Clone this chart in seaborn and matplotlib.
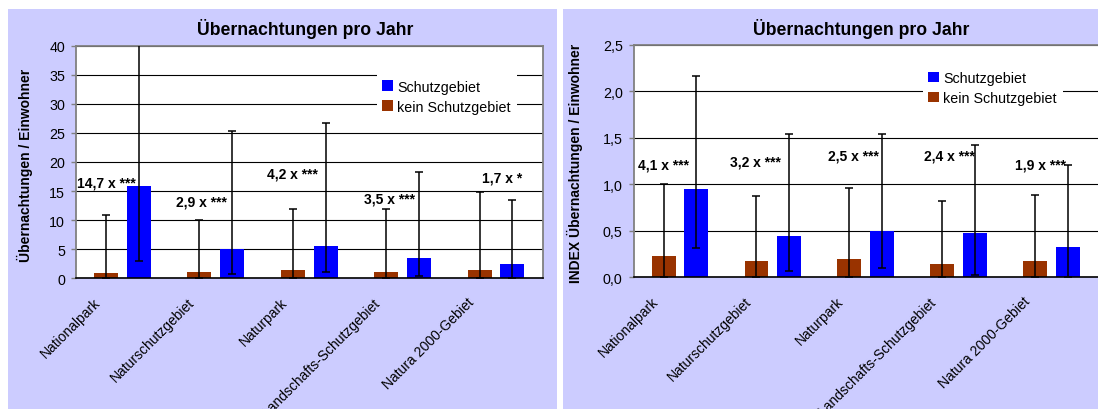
import matplotlib
matplotlib.use("Agg")
import matplotlib.pyplot as plt
import matplotlib.transforms as mtransforms
from matplotlib.patches import Rectangle
from matplotlib.ticker import FuncFormatter, MultipleLocator
import pandas as pd
import seaborn as sns

# ---------------------------------------------------------------- data
gebiete = ["Nationalpark", "Naturschutzgebiet", "Naturpark",
           "Landschafts-Schutzgebiet", "Natura 2000-Gebiet"]
gruppen = ["kein Schutzgebiet", "Schutzgebiet"]

# Übernachtungen / Einwohner
abs_kein = [0.92, 1.1, 1.4, 1.1, 1.4]
abs_kein_unten = [0.0, 0.0, 0.0, 0.0, 0.0]
abs_kein_oben = [10.8, 10.1, 12.0, 11.9, 14.8]
abs_schutz = [15.8, 5.0, 5.5, 3.5, 2.45]
abs_schutz_unten = [3.0, 0.75, 1.15, 0.4, 0.0]
abs_schutz_oben = [47.0, 25.3, 26.7, 18.3, 13.5]
abs_faktor = ["14,7 x", "2,9 x", "4,2 x", "3,5 x", "1,7 x"]
abs_signif = ["***", "***", "***", "***", "*"]

# INDEX Übernachtungen / Einwohner
idx_kein = [0.23, 0.176, 0.197, 0.143, 0.176]
idx_kein_unten = [0.0, 0.0, 0.0, 0.0, 0.0]
idx_kein_oben = [1.0, 0.88, 0.965, 0.82, 0.886]
idx_schutz = [0.95, 0.445, 0.50, 0.477, 0.326]
idx_schutz_unten = [0.31, 0.068, 0.104, 0.029, 0.0]
idx_schutz_oben = [2.17, 1.546, 1.54, 1.42, 1.205]
idx_faktor = ["4,1 x", "3,2 x", "2,5 x", "2,4 x", "1,9 x"]
idx_signif = ["***", "***", "***", "***", "***"]

# ---------------------------------------------------------------- style
sns.set_style("white")
plt.rcParams["font.family"] = ["Liberation Sans", "DejaVu Sans"]
plt.rcParams["text.color"] = "black"
plt.rcParams["axes.labelcolor"] = "black"
plt.rcParams["xtick.color"] = "black"
plt.rcParams["ytick.color"] = "black"

W, H = 1098, 410
fig = plt.figure(figsize=(W / 100, H / 100), dpi=100, facecolor="white")

FARBEN = {"kein Schutzgebiet": "#993300", "Schutzgebiet": "#0000FF"}
PANEL = "#CCCCFF"
FS = 10.3


def px_box(x0, y0, x1, y1):
    """Pixel box (top-left origin) -> figure fraction [l, b, w, h]."""
    return [x0 / W, 1 - y1 / H, (x1 - x0) / W, (y1 - y0) / H]


def panel(ax, kein, kein_u, kein_o, schutz, schutz_u, schutz_o,
          faktor, signif, text_pos, ymax, ystep, fmt, leg_anchor):
    df = pd.DataFrame({
        "Gebiet": gebiete * 2,
        "Gruppe": [gruppen[0]] * len(gebiete) + [gruppen[1]] * len(gebiete),
        "Wert": list(kein) + list(schutz),
    })
    sns.barplot(data=df, x="Gebiet", y="Wert", hue="Gruppe",
                order=gebiete, hue_order=gruppen, palette=FARBEN,
                saturation=1, width=0.704, gap=0.27, errorbar=None,
                linewidth=0, ax=ax, zorder=2)

    # asymmetric error bars at the bar centres
    for cont, vals, lo, hi in zip(ax.containers,
                                  [kein, schutz], [kein_u, schutz_u],
                                  [kein_o, schutz_o]):
        xs, ys, el, eh = [], [], [], []
        for bar in cont:
            xc = bar.get_x() + bar.get_width() / 2
            i = int(round(xc))
            xs.append(xc)
            ys.append(vals[i])
            el.append(vals[i] - lo[i])
            eh.append(hi[i] - vals[i])
        ax.errorbar(xs, ys, yerr=[el, eh], fmt="none", ecolor="black",
                    elinewidth=1.1, capsize=3, capthick=1.1, zorder=3)

    ax.set_xlim(-0.5, len(gebiete) - 0.5)
    ax.set_ylim(0, ymax)
    ax.yaxis.set_major_locator(MultipleLocator(ystep))
    ax.yaxis.set_major_formatter(FuncFormatter(fmt))
    ax.set_facecolor("white")
    ax.set_axisbelow(True)
    ax.grid(axis="y", color="black", linewidth=0.8)
    ax.grid(axis="x", visible=False)

    for side in ("left", "top", "right"):
        ax.spines[side].set_color("#808080")
        ax.spines[side].set_linewidth(1.3)
    ax.spines["bottom"].set_color("black")
    ax.spines["bottom"].set_linewidth(1.2)

    ax.tick_params(axis="y", length=3.6, width=1, color="#808080",
                   pad=4.2, labelsize=FS, labelcolor="black", left=True)
    ax.tick_params(axis="x", length=0, pad=0, labelsize=10,
                   labelcolor="black")
    ax.set_xticks(range(len(gebiete)))
    ax.set_xticklabels(gebiete, rotation=45, ha="right", va="top",
                       rotation_mode="anchor")
    shift = mtransforms.ScaledTranslation(-0.29, -0.165, fig.dpi_scale_trans)
    for lab in ax.get_xticklabels():
        lab.set_transform(lab.get_transform() + shift)
    ax.set_xlabel("")
    ax.set_ylabel("")

    for (tx, ty), f, s in zip(text_pos, faktor, signif):
        ax.text(tx, ty, f"{f} {s}", ha="left", va="center",
                fontsize=10, fontweight="bold", zorder=4)

    handles, labels = ax.get_legend_handles_labels()
    ax.legend(handles[::-1], labels[::-1], loc="upper left",
              bbox_to_anchor=leg_anchor, frameon=True, fancybox=False,
              framealpha=1, facecolor="white", edgecolor="none",
              fontsize=FS, handlelength=0.74, handleheight=0.74,
              handletextpad=0.3, labelspacing=0.42, borderpad=0.4,
              borderaxespad=0)


# chart-area backgrounds
for x0, x1 in ((7.7, 556.7), (563.0, W)):
    fig.patches.append(Rectangle((x0 / W, 0), (x1 - x0) / W, 400 / H,
                                 transform=fig.transFigure, facecolor=PANEL,
                                 edgecolor="none", zorder=-5))

ax1 = fig.add_axes(px_box(75.8, 46.7, 542.7, 279.3))
ax2 = fig.add_axes(px_box(633.5, 46.0, 1098.0, 278.3))

panel(ax1, abs_kein, abs_kein_unten, abs_kein_oben,
      abs_schutz, abs_schutz_unten, abs_schutz_oben,
      abs_faktor, abs_signif,
      [(-0.485, 16.56), (0.573, 13.29), (1.55, 18.1), (2.586, 13.8),
       (3.852, 17.4)],
      40, 5, lambda v, p: f"{v:.0f}", (0.6445, 0.879))

panel(ax2, idx_kein, idx_kein_unten, idx_kein_oben,
      idx_schutz, idx_schutz_unten, idx_schutz_oben,
      idx_faktor, idx_signif,
      [(-0.447, 1.209), (0.540, 1.248), (1.597, 1.316), (2.624, 1.316),
       (3.607, 1.209)],
      2.5, 0.5, lambda v, p: f"{v:.1f}".replace(".", ","), (0.6226, 0.912))
ax2.spines["right"].set_visible(False)

# titles and axis captions
fig.text(304.8 / W, 1 - 29 / H, "Übernachtungen pro Jahr", ha="center",
         va="center", fontsize=12.7, fontweight="bold")
fig.text(861 / W, 1 - 29 / H, "Übernachtungen pro Jahr", ha="center",
         va="center", fontsize=12.7, fontweight="bold")
fig.text(25.2 / W, 1 - 165 / H, "Übernachtungen / Einwohner", rotation=90,
         ha="center", va="center", fontsize=10, fontweight="bold")
fig.text(575.2 / W, 1 - 163.8 / H, "INDEX Übernachtungen / Einwohner",
         rotation=90, ha="center", va="center", fontsize=10,
         fontweight="bold")

fig.savefig("out.png", dpi=100, facecolor="white")
